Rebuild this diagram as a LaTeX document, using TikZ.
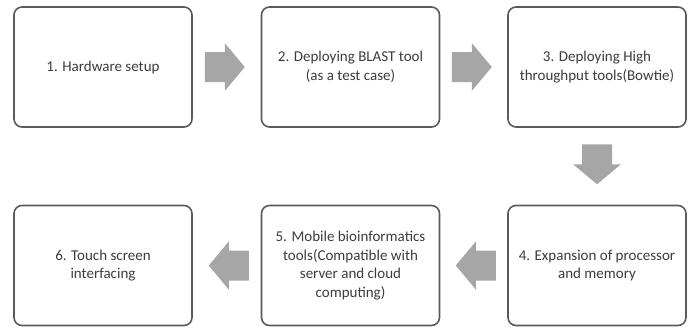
\documentclass[tikz,border=0pt]{standalone}
\usepackage{fontspec}
\setmainfont{Carlito}
\usetikzlibrary{calc}
\definecolor{boxline}{HTML}{5A5A5A}
\definecolor{arrowfill}{HTML}{A6A6A6}
\definecolor{txt}{HTML}{3C3C3C}
\tikzset{
  stepbox/.style={draw=boxline, line width=1.6pt, rounded corners=8pt, fill=white,
    minimum width=178pt, minimum height=120pt, inner sep=2pt, align=center,
    text=txt, font=\fontsize{15}{18.5}\selectfont},
  fatarrow/.pic={\fill[arrowfill] (-20,-15) -- (0,-15) -- (0,-24) -- (20,0) -- (0,24) -- (0,15) -- (-20,15) -- cycle;}
}
\begin{document}
\begin{tikzpicture}[x=1pt,y=-1pt]
\useasboundingbox (0,0) rectangle (694,327);
\node[stepbox] (b1) at (103,67) {1. Hardware setup};
\node[stepbox] (b2) at (350.5,67) {2. Deploying BLAST tool\\(as a test case)};
\node[stepbox] (b3) at (597,67) {3. Deploying High\\throughput tools(Bowtie)};
\node[stepbox] (b4) at (597,265.5) {4. Expansion of processor\\and memory};
\node[stepbox] (b5) at (350.5,265.5) {5. Mobile bioinformatics\\tools(Compatible with\\server and cloud\\computing)};
\node[stepbox] (b6) at (103,265.5) {6. Touch screen\\interfacing};
\coordinate (a12) at ($(b1.east)!0.5!(b2.west)+(-2,0)$);
\coordinate (a23) at ($(b2.east)!0.5!(b3.west)+(-2,0)$);
\coordinate (a34) at ($(b3.south)!0.5!(b4.north)+(0,-2)$);
\coordinate (a45) at ($(b4.west)!0.5!(b5.east)+(2,0)$);
\coordinate (a56) at ($(b5.west)!0.5!(b6.east)+(2,0)$);
\pic at (a12) {fatarrow};
\pic at (a23) {fatarrow};
\pic[rotate=-90] at (a34) {fatarrow};
\pic[rotate=180] at (a45) {fatarrow};
\pic[rotate=180] at (a56) {fatarrow};
\end{tikzpicture}
\end{document}
